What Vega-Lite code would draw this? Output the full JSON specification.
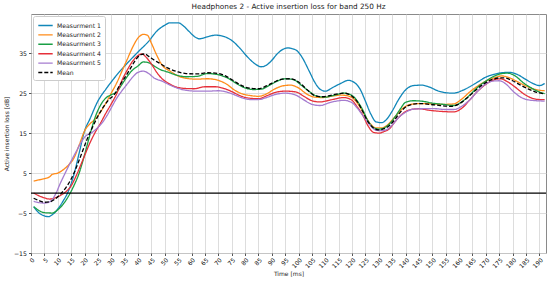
{
  "$schema": "https://vega.github.io/schema/vega-lite/v6.json",
  "width": 515,
  "height": 239,
  "autosize": {"type": "none"},
  "padding": {"left": 31, "top": 14, "right": 4, "bottom": 28},
  "background": "white",
  "title": {"text": "Headphones 2 - Active insertion loss for band 250 Hz", "font": "DejaVu Sans", "fontSize": 7.3, "fontWeight": "normal", "color": "#222", "offset": 4, "anchor": "middle"},
  "config": {
    "font": "DejaVu Sans",
    "view": {"stroke": "#8a8a8a", "strokeWidth": 1},
    "axis": {"domain": false, "gridColor": "#d4d4d4", "gridWidth": 0.8, "tickColor": "#555", "tickSize": 2.5, "labelFontSize": 6, "labelColor": "#111", "titleFontSize": 6, "titleFontWeight": "normal", "titleColor": "#222", "labelFont": "DejaVu Sans", "titleFont": "DejaVu Sans", "labelOverlap": false, "labelSeparation": 0},
    "axisY": {"labelOverlap": false, "labelFontSize": 6.2},
    "legend": {"orient": "top-left", "offset": 2, "fillColor": "white", "strokeColor": "#cccccc", "cornerRadius": 2, "padding": 4, "labelFontSize": 6.1, "labelFont": "DejaVu Sans", "labelColor": "#222", "symbolType": "M-1.6,0L1.6,0", "symbolSize": 81, "symbolStrokeWidth": 1.4, "rowPadding": 0.4, "labelOffset": 6, "symbolOffset": 3}
  },
  "datasets": {
    "curves": [
      {"s":"Measurment 1","t":1,"v":-3.4},{"s":"Measurment 1","t":3,"v":-5},{"s":"Measurment 1","t":5,"v":-5.7},{"s":"Measurment 1","t":6.5,"v":-5.9},{"s":"Measurment 1","t":8,"v":-5.4},{"s":"Measurment 1","t":10,"v":-4},{"s":"Measurment 1","t":12,"v":-2},{"s":"Measurment 1","t":14,"v":0.5},{"s":"Measurment 1","t":16,"v":4.5},{"s":"Measurment 1","t":18,"v":10},{"s":"Measurment 1","t":20,"v":15.5},{"s":"Measurment 1","t":22,"v":18.5},{"s":"Measurment 1","t":25,"v":23},{"s":"Measurment 1","t":28,"v":26},{"s":"Measurment 1","t":30,"v":27.8},{"s":"Measurment 1","t":33,"v":30.3},{"s":"Measurment 1","t":36,"v":32.5},{"s":"Measurment 1","t":40,"v":35.3},{"s":"Measurment 1","t":44,"v":38},{"s":"Measurment 1","t":47,"v":40.5},{"s":"Measurment 1","t":50,"v":42},{"s":"Measurment 1","t":52,"v":42.6},{"s":"Measurment 1","t":55,"v":42.6},{"s":"Measurment 1","t":57,"v":41.8},{"s":"Measurment 1","t":59,"v":40.5},{"s":"Measurment 1","t":61,"v":39.2},{"s":"Measurment 1","t":63,"v":38.6},{"s":"Measurment 1","t":66,"v":39.1},{"s":"Measurment 1","t":69,"v":39.5},{"s":"Measurment 1","t":72,"v":39.2},{"s":"Measurment 1","t":75,"v":38.2},{"s":"Measurment 1","t":78,"v":36.3},{"s":"Measurment 1","t":81,"v":34},{"s":"Measurment 1","t":84,"v":32.2},{"s":"Measurment 1","t":86,"v":31.6},{"s":"Measurment 1","t":88,"v":32},{"s":"Measurment 1","t":90,"v":33.2},{"s":"Measurment 1","t":92,"v":34.8},{"s":"Measurment 1","t":94,"v":35.9},{"s":"Measurment 1","t":96,"v":36.3},{"s":"Measurment 1","t":99,"v":35.8},{"s":"Measurment 1","t":101,"v":34.3},{"s":"Measurment 1","t":104,"v":30.5},{"s":"Measurment 1","t":106,"v":27.8},{"s":"Measurment 1","t":108,"v":26},{"s":"Measurment 1","t":110,"v":25.5},{"s":"Measurment 1","t":113,"v":26.5},{"s":"Measurment 1","t":116,"v":27.5},{"s":"Measurment 1","t":118.5,"v":28.2},{"s":"Measurment 1","t":121,"v":27.6},{"s":"Measurment 1","t":123,"v":26},{"s":"Measurment 1","t":125,"v":23},{"s":"Measurment 1","t":127,"v":19.8},{"s":"Measurment 1","t":129,"v":17.8},{"s":"Measurment 1","t":131,"v":17.6},{"s":"Measurment 1","t":133,"v":18.5},{"s":"Measurment 1","t":135,"v":20.5},{"s":"Measurment 1","t":137.5,"v":23.5},{"s":"Measurment 1","t":140,"v":25.8},{"s":"Measurment 1","t":143,"v":26.9},{"s":"Measurment 1","t":146,"v":27},{"s":"Measurment 1","t":149,"v":26.5},{"s":"Measurment 1","t":152,"v":25.6},{"s":"Measurment 1","t":155,"v":25.1},{"s":"Measurment 1","t":158,"v":25},{"s":"Measurment 1","t":161,"v":25.6},{"s":"Measurment 1","t":164,"v":26.6},{"s":"Measurment 1","t":167,"v":27.8},{"s":"Measurment 1","t":170,"v":29},{"s":"Measurment 1","t":173,"v":29.7},{"s":"Measurment 1","t":176,"v":30.1},{"s":"Measurment 1","t":179,"v":30.2},{"s":"Measurment 1","t":182,"v":29.6},{"s":"Measurment 1","t":185,"v":28.4},{"s":"Measurment 1","t":188,"v":27.3},{"s":"Measurment 1","t":190,"v":26.9},{"s":"Measurment 1","t":192,"v":27.4},

      {"s":"Measurment 2","t":1,"v":3},{"s":"Measurment 2","t":3,"v":3.3},{"s":"Measurment 2","t":5,"v":3.6},{"s":"Measurment 2","t":7,"v":4.1},{"s":"Measurment 2","t":8,"v":4.7},{"s":"Measurment 2","t":10,"v":5},{"s":"Measurment 2","t":12,"v":5.8},{"s":"Measurment 2","t":14,"v":7},{"s":"Measurment 2","t":16,"v":8.7},{"s":"Measurment 2","t":18,"v":12},{"s":"Measurment 2","t":20,"v":15.5},{"s":"Measurment 2","t":22,"v":17.3},{"s":"Measurment 2","t":24,"v":18.5},{"s":"Measurment 2","t":26,"v":20.3},{"s":"Measurment 2","t":28,"v":22.5},{"s":"Measurment 2","t":30,"v":25},{"s":"Measurment 2","t":32,"v":27.5},{"s":"Measurment 2","t":34,"v":30.5},{"s":"Measurment 2","t":36,"v":33.5},{"s":"Measurment 2","t":38,"v":36.5},{"s":"Measurment 2","t":40,"v":38.8},{"s":"Measurment 2","t":42,"v":39.7},{"s":"Measurment 2","t":43.5,"v":39.5},{"s":"Measurment 2","t":45,"v":37.5},{"s":"Measurment 2","t":47,"v":34.5},{"s":"Measurment 2","t":49,"v":32},{"s":"Measurment 2","t":52,"v":30.5},{"s":"Measurment 2","t":55,"v":29.3},{"s":"Measurment 2","t":58,"v":28.7},{"s":"Measurment 2","t":62,"v":28.5},{"s":"Measurment 2","t":66,"v":28.6},{"s":"Measurment 2","t":70,"v":28.2},{"s":"Measurment 2","t":73,"v":27.3},{"s":"Measurment 2","t":76,"v":25.8},{"s":"Measurment 2","t":79,"v":24.8},{"s":"Measurment 2","t":82,"v":24.4},{"s":"Measurment 2","t":85,"v":24.2},{"s":"Measurment 2","t":88,"v":24.8},{"s":"Measurment 2","t":91,"v":26},{"s":"Measurment 2","t":94,"v":26.8},{"s":"Measurment 2","t":97,"v":27},{"s":"Measurment 2","t":100,"v":26.3},{"s":"Measurment 2","t":103,"v":24.8},{"s":"Measurment 2","t":106,"v":24},{"s":"Measurment 2","t":109,"v":23.9},{"s":"Measurment 2","t":112,"v":24.2},{"s":"Measurment 2","t":116,"v":24.5},{"s":"Measurment 2","t":119,"v":24.2},{"s":"Measurment 2","t":121,"v":23.3},{"s":"Measurment 2","t":123,"v":21.5},{"s":"Measurment 2","t":125,"v":19.2},{"s":"Measurment 2","t":127,"v":17.2},{"s":"Measurment 2","t":129,"v":16.3},{"s":"Measurment 2","t":131,"v":16.3},{"s":"Measurment 2","t":133,"v":16.9},{"s":"Measurment 2","t":135,"v":18.3},{"s":"Measurment 2","t":137,"v":19.8},{"s":"Measurment 2","t":139,"v":21.2},{"s":"Measurment 2","t":142,"v":22.2},{"s":"Measurment 2","t":146,"v":22.4},{"s":"Measurment 2","t":150,"v":22.3},{"s":"Measurment 2","t":154,"v":22.2},{"s":"Measurment 2","t":158,"v":22.3},{"s":"Measurment 2","t":161,"v":23.5},{"s":"Measurment 2","t":164,"v":25.3},{"s":"Measurment 2","t":167,"v":26.8},{"s":"Measurment 2","t":170,"v":28},{"s":"Measurment 2","t":173,"v":28.8},{"s":"Measurment 2","t":176,"v":29.3},{"s":"Measurment 2","t":179,"v":28.8},{"s":"Measurment 2","t":182,"v":27.8},{"s":"Measurment 2","t":185,"v":26.8},{"s":"Measurment 2","t":188,"v":26},{"s":"Measurment 2","t":192,"v":25.6},

      {"s":"Measurment 3","t":1,"v":-3.4},{"s":"Measurment 3","t":3,"v":-4.4},{"s":"Measurment 3","t":5,"v":-4.9},{"s":"Measurment 3","t":8,"v":-5},{"s":"Measurment 3","t":10,"v":-4.2},{"s":"Measurment 3","t":12,"v":-2.8},{"s":"Measurment 3","t":14,"v":-0.8},{"s":"Measurment 3","t":16,"v":1.8},{"s":"Measurment 3","t":18,"v":5},{"s":"Measurment 3","t":20,"v":9.5},{"s":"Measurment 3","t":22,"v":14.5},{"s":"Measurment 3","t":24,"v":19},{"s":"Measurment 3","t":26,"v":22},{"s":"Measurment 3","t":28,"v":23.8},{"s":"Measurment 3","t":30,"v":24.6},{"s":"Measurment 3","t":32,"v":25.3},{"s":"Measurment 3","t":34,"v":27.2},{"s":"Measurment 3","t":36,"v":29.2},{"s":"Measurment 3","t":38,"v":30.8},{"s":"Measurment 3","t":40,"v":31.8},{"s":"Measurment 3","t":42,"v":32.8},{"s":"Measurment 3","t":44,"v":32.6},{"s":"Measurment 3","t":46,"v":31.8},{"s":"Measurment 3","t":48,"v":31},{"s":"Measurment 3","t":51,"v":30.3},{"s":"Measurment 3","t":54,"v":29.6},{"s":"Measurment 3","t":58,"v":29.1},{"s":"Measurment 3","t":62,"v":29.2},{"s":"Measurment 3","t":66,"v":29.9},{"s":"Measurment 3","t":70,"v":29.6},{"s":"Measurment 3","t":74,"v":28.6},{"s":"Measurment 3","t":77,"v":27.3},{"s":"Measurment 3","t":80,"v":26.3},{"s":"Measurment 3","t":83,"v":25.9},{"s":"Measurment 3","t":86,"v":26},{"s":"Measurment 3","t":89,"v":26.9},{"s":"Measurment 3","t":92,"v":28},{"s":"Measurment 3","t":95,"v":28.6},{"s":"Measurment 3","t":98,"v":28.4},{"s":"Measurment 3","t":101,"v":27},{"s":"Measurment 3","t":104,"v":25.4},{"s":"Measurment 3","t":107,"v":24.2},{"s":"Measurment 3","t":110,"v":24},{"s":"Measurment 3","t":113,"v":24.4},{"s":"Measurment 3","t":117,"v":25},{"s":"Measurment 3","t":120,"v":24.4},{"s":"Measurment 3","t":122,"v":23},{"s":"Measurment 3","t":124,"v":20.8},{"s":"Measurment 3","t":126,"v":18},{"s":"Measurment 3","t":128,"v":16.4},{"s":"Measurment 3","t":130,"v":16},{"s":"Measurment 3","t":132,"v":16.3},{"s":"Measurment 3","t":134,"v":17.3},{"s":"Measurment 3","t":136,"v":19},{"s":"Measurment 3","t":138,"v":21},{"s":"Measurment 3","t":140,"v":22.7},{"s":"Measurment 3","t":143,"v":23.1},{"s":"Measurment 3","t":146,"v":23},{"s":"Measurment 3","t":150,"v":22.5},{"s":"Measurment 3","t":154,"v":22.2},{"s":"Measurment 3","t":158,"v":21.9},{"s":"Measurment 3","t":161,"v":22.8},{"s":"Measurment 3","t":164,"v":24.5},{"s":"Measurment 3","t":167,"v":26.5},{"s":"Measurment 3","t":170,"v":28},{"s":"Measurment 3","t":173,"v":29.2},{"s":"Measurment 3","t":176,"v":29.9},{"s":"Measurment 3","t":178,"v":30},{"s":"Measurment 3","t":181,"v":29.3},{"s":"Measurment 3","t":184,"v":27.6},{"s":"Measurment 3","t":187,"v":26.3},{"s":"Measurment 3","t":190,"v":25.3},{"s":"Measurment 3","t":192,"v":24.9},

      {"s":"Measurment 4","t":1,"v":0},{"s":"Measurment 4","t":3,"v":-0.7},{"s":"Measurment 4","t":5,"v":-1.2},{"s":"Measurment 4","t":7,"v":-1.5},{"s":"Measurment 4","t":9,"v":-1.2},{"s":"Measurment 4","t":11,"v":-0.6},{"s":"Measurment 4","t":13,"v":0.3},{"s":"Measurment 4","t":15,"v":1.8},{"s":"Measurment 4","t":17,"v":4.5},{"s":"Measurment 4","t":19.5,"v":8.5},{"s":"Measurment 4","t":22,"v":12.5},{"s":"Measurment 4","t":24,"v":15.2},{"s":"Measurment 4","t":26,"v":17.5},{"s":"Measurment 4","t":28,"v":20},{"s":"Measurment 4","t":30,"v":22.3},{"s":"Measurment 4","t":32,"v":24.8},{"s":"Measurment 4","t":34,"v":28.2},{"s":"Measurment 4","t":36,"v":30.8},{"s":"Measurment 4","t":38,"v":33},{"s":"Measurment 4","t":40,"v":34.4},{"s":"Measurment 4","t":41.5,"v":34.8},{"s":"Measurment 4","t":43,"v":34},{"s":"Measurment 4","t":45,"v":32.3},{"s":"Measurment 4","t":47,"v":30.2},{"s":"Measurment 4","t":49,"v":28.6},{"s":"Measurment 4","t":51,"v":27.6},{"s":"Measurment 4","t":54,"v":26.6},{"s":"Measurment 4","t":57,"v":26.2},{"s":"Measurment 4","t":61,"v":26.1},{"s":"Measurment 4","t":65,"v":26.6},{"s":"Measurment 4","t":69,"v":26.6},{"s":"Measurment 4","t":72,"v":26.2},{"s":"Measurment 4","t":75,"v":25.4},{"s":"Measurment 4","t":78,"v":24.4},{"s":"Measurment 4","t":81,"v":23.8},{"s":"Measurment 4","t":85,"v":23.6},{"s":"Measurment 4","t":88,"v":24.3},{"s":"Measurment 4","t":91,"v":25.1},{"s":"Measurment 4","t":95,"v":25.5},{"s":"Measurment 4","t":99,"v":25.3},{"s":"Measurment 4","t":102,"v":24.2},{"s":"Measurment 4","t":105,"v":23.1},{"s":"Measurment 4","t":108,"v":22.8},{"s":"Measurment 4","t":112,"v":23.3},{"s":"Measurment 4","t":117,"v":23.9},{"s":"Measurment 4","t":120,"v":23.2},{"s":"Measurment 4","t":122,"v":21.5},{"s":"Measurment 4","t":124,"v":19.5},{"s":"Measurment 4","t":126,"v":16.8},{"s":"Measurment 4","t":128,"v":15.2},{"s":"Measurment 4","t":130,"v":15},{"s":"Measurment 4","t":132,"v":15.4},{"s":"Measurment 4","t":134,"v":16.1},{"s":"Measurment 4","t":136,"v":17.8},{"s":"Measurment 4","t":138,"v":19.3},{"s":"Measurment 4","t":141,"v":20.7},{"s":"Measurment 4","t":145,"v":21.1},{"s":"Measurment 4","t":149,"v":20.7},{"s":"Measurment 4","t":154,"v":20.4},{"s":"Measurment 4","t":158,"v":20.3},{"s":"Measurment 4","t":161,"v":21.2},{"s":"Measurment 4","t":164,"v":23.3},{"s":"Measurment 4","t":167,"v":25.5},{"s":"Measurment 4","t":170,"v":27.2},{"s":"Measurment 4","t":173,"v":28.3},{"s":"Measurment 4","t":175.5,"v":28.6},{"s":"Measurment 4","t":178,"v":27.9},{"s":"Measurment 4","t":181,"v":26.5},{"s":"Measurment 4","t":184,"v":24.9},{"s":"Measurment 4","t":187,"v":23.8},{"s":"Measurment 4","t":190,"v":23.4},{"s":"Measurment 4","t":192,"v":23.4},

      {"s":"Measurment 5","t":1,"v":-2.1},{"s":"Measurment 5","t":3,"v":-2.4},{"s":"Measurment 5","t":5,"v":-2.5},{"s":"Measurment 5","t":7,"v":-2.2},{"s":"Measurment 5","t":9,"v":-0.5},{"s":"Measurment 5","t":11,"v":2.5},{"s":"Measurment 5","t":13,"v":5.3},{"s":"Measurment 5","t":15,"v":8},{"s":"Measurment 5","t":17,"v":10.5},{"s":"Measurment 5","t":19,"v":13},{"s":"Measurment 5","t":20.5,"v":14.3},{"s":"Measurment 5","t":22.5,"v":15},{"s":"Measurment 5","t":24.5,"v":16.1},{"s":"Measurment 5","t":26.5,"v":17.5},{"s":"Measurment 5","t":28.5,"v":19.5},{"s":"Measurment 5","t":30,"v":21.3},{"s":"Measurment 5","t":32,"v":23.7},{"s":"Measurment 5","t":34,"v":25.6},{"s":"Measurment 5","t":36,"v":27.3},{"s":"Measurment 5","t":38,"v":29},{"s":"Measurment 5","t":40,"v":30.2},{"s":"Measurment 5","t":42,"v":30.5},{"s":"Measurment 5","t":44,"v":29.9},{"s":"Measurment 5","t":46,"v":28.8},{"s":"Measurment 5","t":49,"v":28},{"s":"Measurment 5","t":52,"v":27},{"s":"Measurment 5","t":55,"v":26.2},{"s":"Measurment 5","t":58,"v":25.7},{"s":"Measurment 5","t":62,"v":25.5},{"s":"Measurment 5","t":66,"v":25.5},{"s":"Measurment 5","t":70,"v":25.6},{"s":"Measurment 5","t":73,"v":25.3},{"s":"Measurment 5","t":76,"v":24.6},{"s":"Measurment 5","t":79,"v":23.8},{"s":"Measurment 5","t":82,"v":23.4},{"s":"Measurment 5","t":85,"v":23.4},{"s":"Measurment 5","t":88,"v":23.9},{"s":"Measurment 5","t":91,"v":24.6},{"s":"Measurment 5","t":95,"v":25},{"s":"Measurment 5","t":99,"v":24.5},{"s":"Measurment 5","t":102,"v":23.3},{"s":"Measurment 5","t":105,"v":22.2},{"s":"Measurment 5","t":108,"v":21.9},{"s":"Measurment 5","t":112,"v":22.7},{"s":"Measurment 5","t":117,"v":23.2},{"s":"Measurment 5","t":120,"v":22.6},{"s":"Measurment 5","t":122,"v":21.2},{"s":"Measurment 5","t":124.5,"v":19},{"s":"Measurment 5","t":127,"v":16.8},{"s":"Measurment 5","t":129,"v":15.7},{"s":"Measurment 5","t":131,"v":15.6},{"s":"Measurment 5","t":133,"v":15.9},{"s":"Measurment 5","t":135,"v":17},{"s":"Measurment 5","t":137,"v":18.6},{"s":"Measurment 5","t":140,"v":20.2},{"s":"Measurment 5","t":143,"v":21},{"s":"Measurment 5","t":147,"v":21.1},{"s":"Measurment 5","t":151,"v":21.1},{"s":"Measurment 5","t":155,"v":20.9},{"s":"Measurment 5","t":158,"v":20.9},{"s":"Measurment 5","t":161,"v":21.7},{"s":"Measurment 5","t":164,"v":23.3},{"s":"Measurment 5","t":167,"v":25.5},{"s":"Measurment 5","t":170,"v":27.3},{"s":"Measurment 5","t":172.5,"v":28},{"s":"Measurment 5","t":175,"v":28.1},{"s":"Measurment 5","t":177.5,"v":27.3},{"s":"Measurment 5","t":180,"v":25.6},{"s":"Measurment 5","t":183,"v":24},{"s":"Measurment 5","t":186,"v":23.3},{"s":"Measurment 5","t":189,"v":23.1},{"s":"Measurment 5","t":192,"v":23},

      {"s":"Mean","t":1,"v":-1.3},{"s":"Mean","t":3,"v":-1.9},{"s":"Mean","t":5,"v":-2.3},{"s":"Mean","t":7,"v":-2.2},{"s":"Mean","t":9,"v":-1.5},{"s":"Mean","t":11,"v":-0.3},{"s":"Mean","t":13,"v":1.3},{"s":"Mean","t":15,"v":3.5},{"s":"Mean","t":17,"v":6.5},{"s":"Mean","t":19,"v":10},{"s":"Mean","t":21,"v":13.5},{"s":"Mean","t":23,"v":16.5},{"s":"Mean","t":25,"v":19.2},{"s":"Mean","t":27,"v":21.5},{"s":"Mean","t":29,"v":23.3},{"s":"Mean","t":31,"v":24.5},{"s":"Mean","t":33,"v":26.8},{"s":"Mean","t":35,"v":28.8},{"s":"Mean","t":37,"v":31},{"s":"Mean","t":39,"v":33.2},{"s":"Mean","t":41,"v":34.6},{"s":"Mean","t":42.5,"v":34.8},{"s":"Mean","t":44,"v":34.2},{"s":"Mean","t":46,"v":33.3},{"s":"Mean","t":48,"v":32.5},{"s":"Mean","t":51,"v":31.3},{"s":"Mean","t":55,"v":30.3},{"s":"Mean","t":58,"v":29.9},{"s":"Mean","t":62,"v":29.8},{"s":"Mean","t":66,"v":30.1},{"s":"Mean","t":70,"v":29.9},{"s":"Mean","t":73,"v":29.2},{"s":"Mean","t":76,"v":28},{"s":"Mean","t":79,"v":26.8},{"s":"Mean","t":82,"v":26.2},{"s":"Mean","t":85,"v":26.1},{"s":"Mean","t":88,"v":26.8},{"s":"Mean","t":91,"v":27.8},{"s":"Mean","t":94,"v":28.5},{"s":"Mean","t":97,"v":28.6},{"s":"Mean","t":100,"v":27.8},{"s":"Mean","t":103,"v":26},{"s":"Mean","t":106,"v":24.4},{"s":"Mean","t":109,"v":24.1},{"s":"Mean","t":113,"v":24.6},{"s":"Mean","t":117,"v":25},{"s":"Mean","t":120,"v":24.2},{"s":"Mean","t":122,"v":22.8},{"s":"Mean","t":124,"v":20.4},{"s":"Mean","t":126,"v":17.8},{"s":"Mean","t":128,"v":16.3},{"s":"Mean","t":130,"v":15.8},{"s":"Mean","t":132,"v":16.1},{"s":"Mean","t":134,"v":16.9},{"s":"Mean","t":136,"v":18.4},{"s":"Mean","t":138,"v":20.2},{"s":"Mean","t":141,"v":21.9},{"s":"Mean","t":145,"v":22.4},{"s":"Mean","t":149,"v":22.2},{"s":"Mean","t":153,"v":21.9},{"s":"Mean","t":157,"v":21.7},{"s":"Mean","t":160,"v":22.3},{"s":"Mean","t":163,"v":23.8},{"s":"Mean","t":166,"v":25.6},{"s":"Mean","t":169,"v":27.2},{"s":"Mean","t":172,"v":28.3},{"s":"Mean","t":175,"v":28.8},{"s":"Mean","t":177,"v":28.8},{"s":"Mean","t":180,"v":28.1},{"s":"Mean","t":183,"v":27},{"s":"Mean","t":186,"v":26},{"s":"Mean","t":189,"v":25.2},{"s":"Mean","t":192,"v":24.8}
    ]
  },
  "layer": [
    {
      "data": {"name": "curves"},
      "mark": {"type": "line", "interpolate": "monotone", "strokeWidth": 1.3},
      "encoding": {
        "x": {"field": "t", "type": "quantitative", "title": "Time [ms]",
              "scale": {"domain": [0, 192.5], "nice": false, "zero": false},
              "axis": {"values": [0,5,10,15,20,25,30,35,40,45,50,55,60,65,70,75,80,85,90,95,100,105,110,115,120,125,130,135,140,145,150,155,160,165,170,175,180,185,190], "labelAngle": -45, "labelAlign": "right", "labelBaseline": "top", "labelPadding": 1, "titlePadding": 2, "labelFlush": false, "labelOverlap": false}},
        "y": {"field": "v", "type": "quantitative", "title": "Active insertion loss [dB]",
              "scale": {"domain": [-15, 44.8], "nice": false, "zero": false},
              "axis": {"values": [-15,-10,-5,0,5,10,15,20,25,30,35,40], "labelPadding": 2, "titlePadding": 4, "labelFlush": false, "labelOverlap": false, "labelBound": false, "labelSeparation": 0}},
        "color": {"field": "s", "type": "nominal", "title": null,
                  "scale": {"domain": ["Measurment 1","Measurment 2","Measurment 3","Measurment 4","Measurment 5","Mean"],
                            "range": ["#1187b9","#ff8c1a","#1a9f45","#e6303a","#a57cd0","#000000"]}},
        "strokeDash": {"field": "s", "type": "nominal", "title": null,
                       "scale": {"domain": ["Measurment 1","Measurment 2","Measurment 3","Measurment 4","Measurment 5","Mean"],
                                 "range": [[1,0],[1,0],[1,0],[1,0],[1,0],[4,2]]}},
        "strokeWidth": {"condition": {"test": "datum.s === 'Mean'", "value": 1.5}, "value": 1.3}
      }
    },
    {
      "data": {"values": [{"z": 0}]},
      "mark": {"type": "rule", "color": "#000000", "strokeWidth": 1.2},
      "encoding": {"y": {"field": "z", "type": "quantitative"}}
    }
  ]
}
